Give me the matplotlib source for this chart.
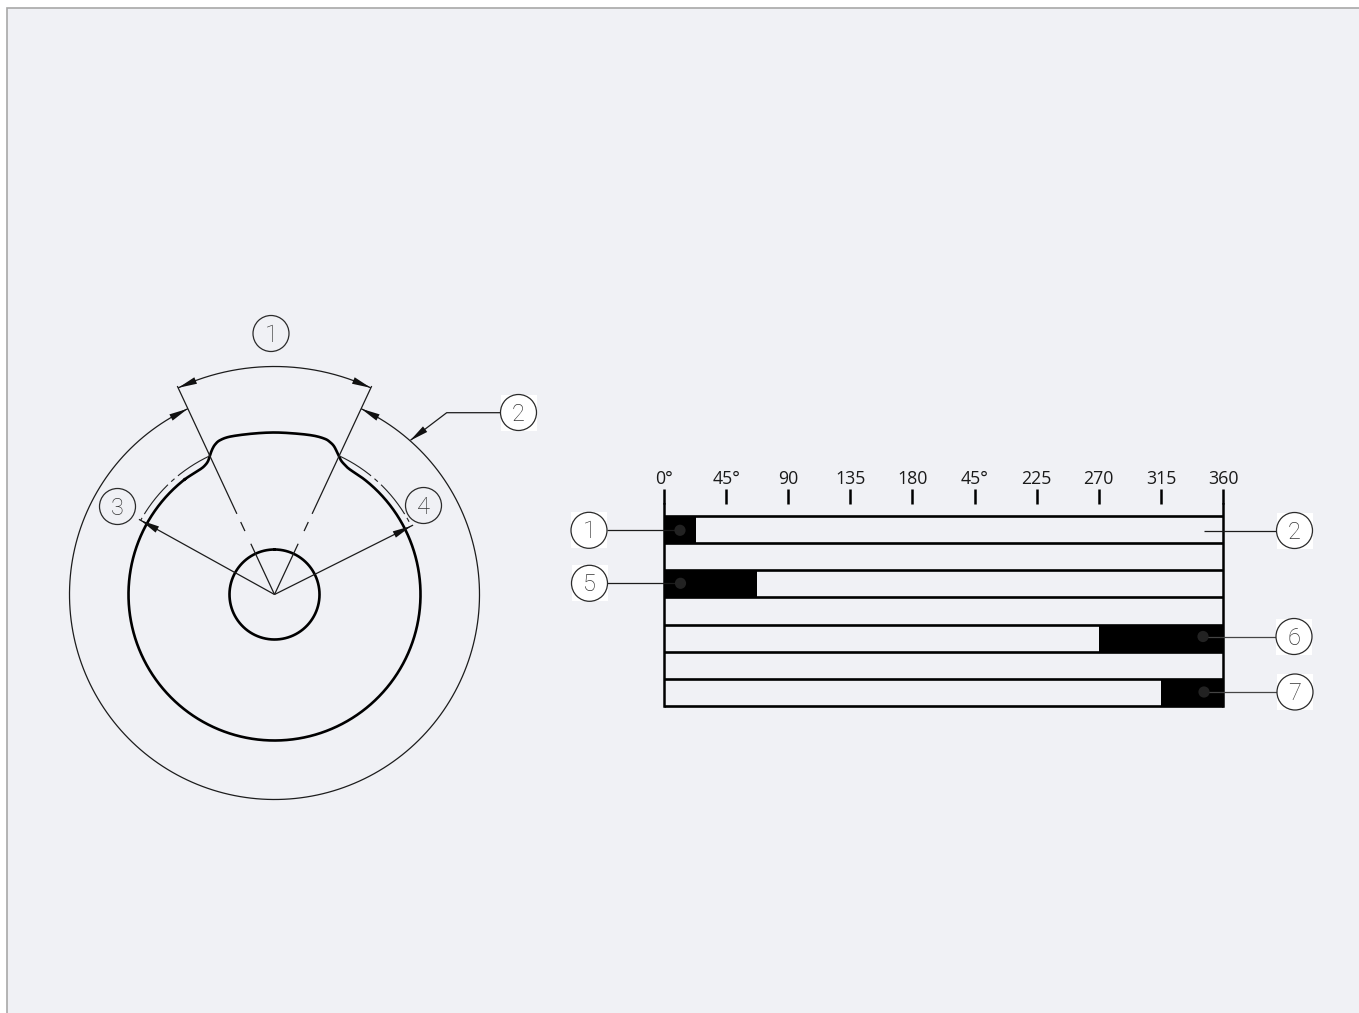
import numpy as np
import matplotlib
matplotlib.use("Agg")
import matplotlib.pyplot as plt
from matplotlib.patches import Rectangle, Circle, Polygon

W, H = 1359, 1013
BG = "#f0f1f5"

# bar chart data (degrees)
scale_labels = ["0°", "45°", "90", "135", "180", "45°", "225", "270", "315", "360"]
tick_pos = [0, 40, 80, 120, 160, 200, 240, 280, 320, 360]
rows = [0, 1, 2, 3]
seg_start = [0, 0, 280, 320]
seg_width = [20.5, 60, 80, 40]

# cam profile: angle from vertical (deg) and radius (px)
prof_a = [-45, -38, -31, -28.5, -26.5, -24.8, -23, -21.5, -19.5, -15.7, -8, 0, 8, 14, 18, 20, 22,
          24.6, 26.5, 28.6, 31, 38, 45]
prof_r = [146, 146, 145.5, 146.5, 149, 153.7, 158.5, 161.5, 163.6, 164, 162.4, 162, 162.4, 163.6, 163.6,
          162.2, 159.5, 153.4, 149.5, 147.4, 146, 146, 146]

CX, CY = 274.5, 594.5


def pol(a, r):
    a = np.radians(a)
    return CX + r * np.sin(a), CY - r * np.cos(a)


def catmull(x, y, n=16):
    P = np.column_stack([x, y])
    out = []
    for i in range(1, len(P) - 2):
        p0, p1, p2, p3 = P[i - 1], P[i], P[i + 1], P[i + 2]
        for t in np.linspace(0, 1, n, endpoint=False):
            out.append(0.5 * (2 * p1 + (p2 - p0) * t + (2 * p0 - 5 * p1 + 4 * p2 - p3) * t ** 2
                              + (3 * p1 - p0 - 3 * p2 + p3) * t ** 3))
    return np.array(out)


fig = plt.figure(figsize=(W / 100, H / 100), dpi=100, facecolor="white")

bg = fig.add_axes([0, 0, 1, 1], zorder=0)
bg.set_xlim(0, W); bg.set_ylim(H, 0); bg.axis("off")
bg.add_patch(Rectangle((7, 8), W, H, fc=BG, ec="#a8a8a8", lw=1.2))

# bar chart axes
PX0, PX1, PTOP, PBOT = 664, 1223, 504, 706
RH = 54
ax = fig.add_axes([PX0 / W, 1 - PBOT / H, (PX1 - PX0) / W, (PBOT - PTOP) / H], zorder=1)
ax.patch.set_alpha(0)
ax.set_xlim(0, 360)
ax.set_ylim((PBOT - 530) / RH, (PTOP - 530) / RH)
ax.barh(rows, seg_width, left=seg_start, height=0.5, color="black", zorder=2)
for r in rows:
    ax.hlines([r - 0.25, r + 0.25], 0, 360, color="black", lw=1.9, zorder=3, clip_on=False)
for s in ("top", "bottom"):
    ax.spines[s].set_visible(False)
for s in ("left", "right"):
    ax.spines[s].set_linewidth(1.8)
ax.set_yticks([])
ax.xaxis.tick_top()
ax.set_xticks(tick_pos)
ax.set_xticklabels(scale_labels, fontsize=12.8, color="#1a1a1a", family="Open Sans")
ax.tick_params(axis="x", length=10.8, width=1.8, pad=0.4, color="black")

# overlay: drawing in pixel coordinates
ov = fig.add_axes([0, 0, 1, 1], zorder=2)
ov.set_xlim(0, W); ov.set_ylim(H, 0); ov.axis("off"); ov.patch.set_alpha(0)

THIN = dict(color="#1c1c1c", lw=0.9, solid_capstyle="butt")


def arrow(tip, toward, length=19, width=7):
    tip = np.array(tip); d = np.array(toward) - tip
    d = d / np.hypot(*d); n = np.array([-d[1], d[0]])
    b = tip + d * length
    ov.add_patch(Polygon([tip, b + n * width / 2, b - n * width / 2], fc="#111111", ec="none", zorder=6))


def arc(a0, a1, r, **kw):
    a = np.linspace(a0, a1, 400)
    x, y = pol(a, r)
    ov.plot(x, y, **kw)


def radial(a, r0, r1):
    x, y = pol(np.array([a, a]), np.array([r0, r1]))
    ov.plot(x, y, **THIN)


# cam outline
cx, cy = pol(np.array(prof_a), np.array(prof_r))
top = catmull(cx, cy)
ax_ = np.linspace(38, 322, 500)
bx, by = pol(ax_, 146)
ov.plot(np.r_[top[:, 0], bx], np.r_[top[:, 1], by], color="black", lw=1.9, solid_joinstyle="round")
arc(0, 360, 45, color="black", lw=1.9)

# outer circle and dimension arcs
arc(25, 335, 205, **THIN)
arc(-25, 25, 228, **THIN)
for s in (-1, 1):
    radial(s * 25, 89, 230)
    radial(s * 25, 70, 80)
    radial(s * 25, 0, 56)
    arrow(pol(s * 25, 228), pol(s * 20.5, 228))
    arrow(pol(s * 25, 205), pol(s * 30, 205))

# functional arcs with centre line style
dash = dict(color="#222222", lw=0.8, linestyle=(0, (34, 4, 4, 4)))
arc(-25, -61, 153, **dash)
arc(25, 63.4, 153, **dash)
for a in (-61, 63.4):
    radial(a, 0, 155)
    arrow(pol(a, 153), pol(a, 135))

# leader for label 2 on the drawing
ov.plot([500, 446.7, 410.5], [412.7, 412.7, 440.2], **THIN)
arrow((410, 440.7), (446.7, 412.7))

# leaders over the bars
dots = [(680, 530.3), (680.5, 583.3), (1203, 636.5), (1204, 692)]
for x, y in dots:
    ov.add_patch(Circle((x, y), 5.6, fc="#222222", ec="none", zorder=5))
ov.plot([607, 680], [530.3, 530.3], **THIN)
ov.plot([607, 680.5], [583.3, 583.3], **THIN)
ov.plot([1204, 1277], [530.5, 530.5], **THIN)
ov.plot([1203, 1276], [636.5, 636.5], color="#444444", lw=0.9)
ov.plot([1204, 1277], [692, 692], color="#444444", lw=0.9)


def bubble(x, y, txt, box=False):
    if box:
        ov.add_patch(Rectangle((x - 18, y - 18), 36, 36, fc="white", ec="none", zorder=7))
    ov.add_patch(Circle((x, y), 18, fc="white" if box else "none", ec="#2a2a2a", lw=0.9, zorder=8))
    ov.text(x, y - 1, txt, ha="center", va="center_baseline", fontsize=17, color="#333333",
            family="Roboto", fontweight="light", zorder=9)


bubble(271, 333.5, "1")
bubble(518.5, 412.5, "2", True)
bubble(117.5, 506.5, "3")
bubble(423.5, 505.5, "4")
bubble(589, 530.3, "1", True)
bubble(589.5, 583.3, "5", True)
bubble(1294.5, 530.5, "2", True)
bubble(1294, 636.5, "6", True)
bubble(1295, 692, "7", True)

fig.savefig("out.png", dpi=100)
